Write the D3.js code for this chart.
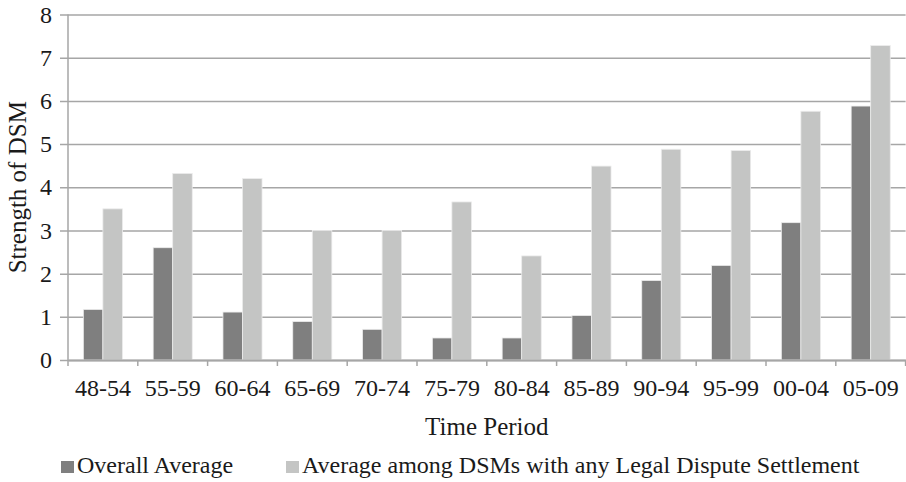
<!DOCTYPE html>
<html>
<head>
<meta charset="utf-8">
<script src="https://cdn.jsdelivr.net/npm/d3@7/dist/d3.min.js"></script>
<style>
  html, body { margin: 0; padding: 0; background: #fff; }
  svg text { font-family: "Liberation Serif", "Times New Roman", serif; fill: #1a1a1a; }
</style>
</head>
<body>
<svg id="chart" width="906" height="482"></svg>
<script>
const periods = ["48-54","55-59","60-64","65-69","70-74","75-79","80-84","85-89","90-94","95-99","00-04","05-09"];
const overallAverage = [1.17, 2.60, 1.11, 0.89, 0.71, 0.51, 0.51, 1.03, 1.84, 2.19, 3.18, 5.88];
const legalAverage   = [3.50, 4.32, 4.20, 3.00, 3.00, 3.66, 2.41, 4.49, 4.88, 4.85, 5.76, 7.28];
const seriesNames = ["Overall Average", "Average among DSMs with any Legal Dispute Settlement"];
const yTicks = [0,1,2,3,4,5,6,7,8];

const colors = ["#7f7f7f", "#c4c5c4"];
const gridColor = "#a6a6a6";

const svg = d3.select("#chart");
const mLeft = 68, mRight = 905.6, mTop = 14.5, mBottom = 360;

const y = d3.scaleLinear().domain([0, 8]).range([mBottom, mTop]);
const x0 = d3.scaleBand().domain(periods).range([mLeft, mRight]).paddingInner(0.44).paddingOuter(0.22);
const x1 = d3.scaleBand().domain([0, 1]).range([0, x0.bandwidth()]);

// gridlines + y labels
const yAxis = d3.axisLeft(y).tickValues(yTicks).tickSize(-(mRight - mLeft + 8)).tickPadding(8).tickFormat(d3.format("d"));
const gy = svg.append("g").attr("transform", `translate(${mLeft - 8},0)`).call(yAxis);
gy.select(".domain").remove();
gy.selectAll(".tick line").attr("stroke", gridColor).attr("stroke-width", 1.5);
gy.selectAll(".tick text").attr("font-size", 24).attr("fill", "#1a1a1a").attr("font-family", "Liberation Serif");

// bars
const data = periods.map((p, i) => ({ p, vals: [overallAverage[i], legalAverage[i]] }));
const groups = svg.append("g").selectAll("g").data(data).join("g")
  .attr("transform", d => `translate(${x0(d.p)},0)`);
groups.selectAll("rect").data(d => d.vals.map((v, k) => ({ v, k }))).join("rect")
  .attr("x", d => x1(d.k))
  .attr("width", x1.bandwidth())
  .attr("y", d => y(d.v))
  .attr("height", d => y(0) - y(d.v))
  .attr("fill", d => colors[d.k])
  .attr("stroke", "#ececec")
  .attr("stroke-width", 0.8);

// y axis line
svg.append("line").attr("x1", mLeft).attr("x2", mLeft).attr("y1", mTop).attr("y2", mBottom)
  .attr("stroke", gridColor).attr("stroke-width", 1.5);

// x axis
const xAxis = d3.axisBottom(x0).tickSize(0).tickPadding(19);
const gx = svg.append("g").attr("transform", `translate(0,${mBottom})`).call(xAxis);
gx.select(".domain").attr("stroke", gridColor).attr("stroke-width", 2);
gx.selectAll(".tick text").attr("font-size", 24).attr("fill", "#1a1a1a").attr("font-family", "Liberation Serif");

// boundary tick marks
const bounds = periods.map(p => x0(p) - x0.step() * x0.paddingInner() / 2).concat([mRight]);
svg.append("g").selectAll("line").data(bounds).join("line")
  .attr("x1", d => d).attr("x2", d => d).attr("y1", mBottom).attr("y2", mBottom + 6)
  .attr("stroke", gridColor).attr("stroke-width", 1.5);

// axis titles
svg.append("text").attr("x", (mLeft + mRight) / 2).attr("y", 435).attr("text-anchor", "middle")
  .attr("font-size", 25).text("Time Period");
svg.append("text").attr("transform", `translate(26,${(mTop + mBottom) / 2}) rotate(-90)`)
  .attr("text-anchor", "middle").attr("font-size", 25).text("Strength of DSM");

// legend
const legendItems = [{ x: 61, tx: 77 }, { x: 286, tx: 302 }];
const lg = svg.append("g").selectAll("g").data(seriesNames).join("g");
lg.append("rect").attr("x", (d, i) => legendItems[i].x).attr("y", 461).attr("width", 13).attr("height", 12)
  .attr("fill", (d, i) => colors[i]);
lg.append("text").attr("x", (d, i) => legendItems[i].tx).attr("y", 473).attr("font-size", 24).text(d => d);
</script>
</body>
</html>
